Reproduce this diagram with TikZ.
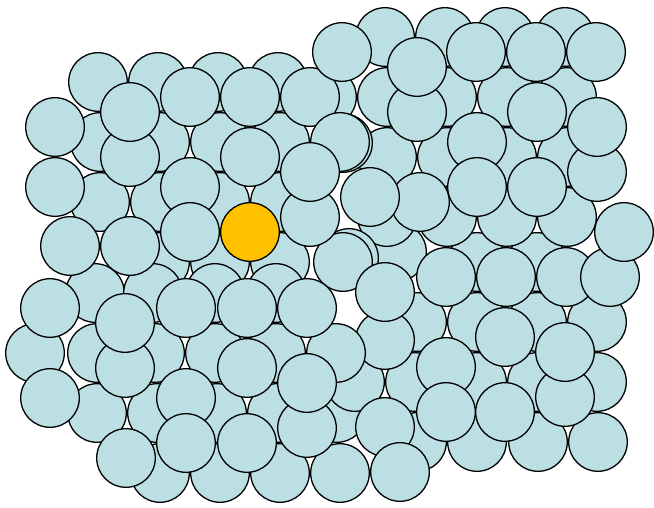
\documentclass[tikz,border=0pt]{standalone}
\definecolor{ballblue}{HTML}{BBDFE3}
\definecolor{ballorange}{HTML}{FFC000}
\tikzset{
  ball/.style={draw=black, fill=ballblue, line width=1.3pt},
  hot/.style={draw=black, fill=ballorange, line width=1.3pt}
}
\newcommand{\balls}[1]{\foreach \cx/\cy in {#1} {\draw[ball] (\cx,\cy) circle (29.3);}}
\begin{document}
\begin{tikzpicture}[x=1pt,y=-1pt]
\useasboundingbox (0,0) rectangle (654,508);
% back layer
\balls{98/82,158/82,218/82,278/82,
100/142,160/142,220/142,280/142,
100/202,160/202,220/202,280/202,
160/262,220/262,280/262,
385/37,445/37,505/37,565/37,
327/97,387/97,447/97,507/97,567/97,
387/157,447/157,507/157,567/157,
397/252,477/262,537/262,
387/217,447/217,507/217,567/217,
95/293,153/293,215/293,276/293,
35/353,97/353,155/353,215/353,276/353,
97/413,157/413,217/413,277/413,337/413,
160/473,220/473,280/473,340/473,
417/322,477/322,537/322,597/322,
355/382,415/382,477/382,537/382,597/382,
417/442,385/427,477/442,538/442,598/442}
% front layer, upper left
\balls{55/127,55/187,130/157,130/112,190/97,250/97,310/97,190/187,190/232,250/157,70/246,130/246}
\draw[hot] (250,232) circle (29.3);
% middle
\balls{349/258,343/262,342/52,343/143,340/142,310/217,310/172,420/202,370/197}
% upper right
\balls{417/112,417/67,476/52,536/52,596/52,537/112,597/172,597/127,477/142,477/187,537/187}
% lower right
\balls{446/277,506/277,566/277,610/277,624/232,505/337,565/397,565/352,446/367,446/412,505/412,400/472}
% middle low
\balls{385/340,385/292}
% lower left
\balls{50/308,125/368,125/323,186/308,247/308,336/353,307/308,247/368,307/428,307/383,50/398,186/398,186/443,126/458,247/443}
\end{tikzpicture}
\end{document}
